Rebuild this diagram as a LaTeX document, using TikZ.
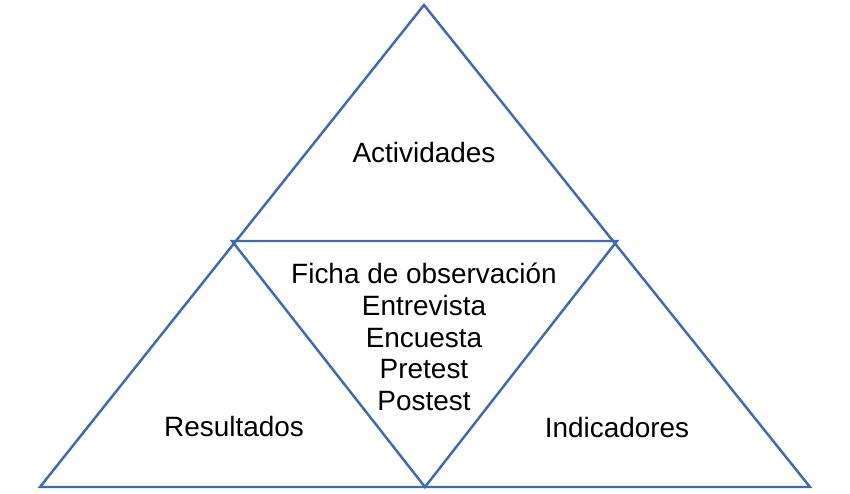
\documentclass[tikz,border=0pt]{standalone}
\usepackage{fontspec}
\setmainfont{Liberation Sans}
\definecolor{edge}{HTML}{4169B0}
\begin{document}
\begin{tikzpicture}[x=0.02cm,y=-0.02cm,
  edgeline/.style={draw=edge,line width=1.4pt,line join=miter},
  lbl/.style={font=\fontsize{15.9}{18}\selectfont,align=center,inner sep=0pt}]
\useasboundingbox (0,0) rectangle (850,494);
\coordinate (top) at (424,5);
\coordinate (bl) at (40,487);
\coordinate (br) at (810,487);
\coordinate (ml) at (232,241);
\coordinate (mr) at (617,241);
\coordinate (mb) at (425,487);
\draw[edgeline] (top) -- (br) -- (bl) -- cycle;
\draw[edgeline] (ml) -- (mr) -- (mb) -- cycle;
\node[lbl] (act) at (424,153) {Actividades};
\node[lbl] (res) at (234,427) {Resultados};
\node[lbl] (ind) at (617,428) {Indicadores};
\node[lbl] (mid) at (424,337) {Ficha de observación\\Entrevista\\Encuesta\\Pretest\\Postest};
\end{tikzpicture}
\end{document}
